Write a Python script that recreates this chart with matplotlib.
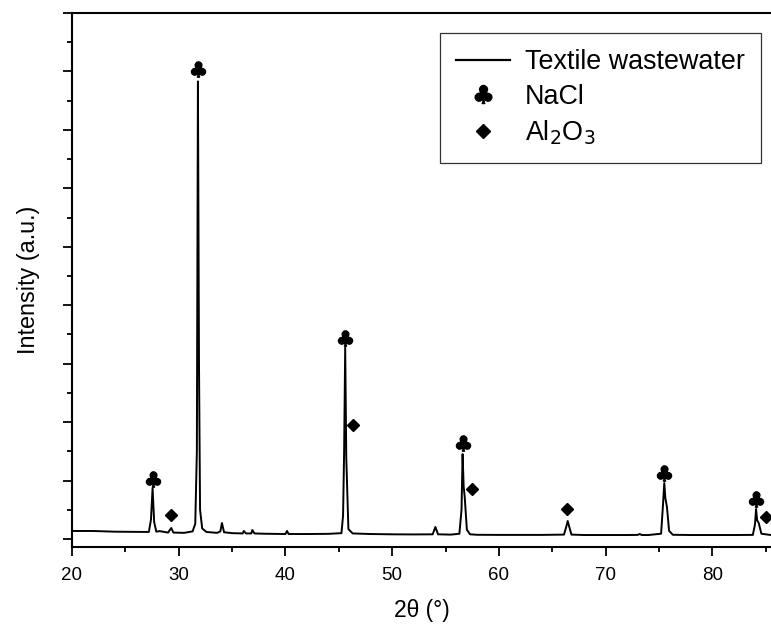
import matplotlib
matplotlib.use('Agg')
import matplotlib.pyplot as plt
from matplotlib.lines import Line2D
from matplotlib.ticker import MultipleLocator

plt.rcParams['font.family'] = ['Liberation Sans', 'DejaVu Sans']
plt.rcParams['mathtext.fontset'] = 'dejavusans'

# XRD pattern (one major y tick = 1000 a.u.)
two_theta = [20, 22, 24, 26, 27.2, 27.4, 27.55, 27.7, 27.9, 28.2, 29.0, 29.3, 29.5,
             30.5, 31.3, 31.55, 31.7, 31.8, 31.9, 32.0, 32.2, 32.6, 33.6, 33.9, 34.05,
             34.25, 35.0, 36.0, 36.1, 36.3, 36.8, 36.9, 37.1, 38.0, 40.0, 40.15, 40.3,
             42.0, 44.0, 45.25, 45.4, 45.5, 45.6, 45.7, 45.9, 46.3, 48.0, 50.0, 52.0, 53.8,
             54.05, 54.3, 55.5, 56.3, 56.5, 56.6, 56.7, 56.8, 57.0, 57.3, 58.0, 60.0,
             62.0, 64.0, 66.1, 66.3, 66.45, 66.6, 66.8, 68.0, 70.0, 72.0, 73.0, 73.2,
             73.4, 74.0, 75.2, 75.35, 75.5, 75.6, 75.75, 75.95, 76.3, 78.0, 80.0, 82.0,
             83.8, 84.0, 84.1, 84.2, 84.35, 84.6, 85.5]
intensity = [137, 137, 125, 122, 120, 330, 872, 290, 125, 135, 110, 188, 110,
             105, 130, 260, 1500, 7830, 3000, 500, 180, 120, 105, 130, 273,
             115, 100, 95, 137, 95, 95, 154, 95, 90, 85, 137, 85,
             85, 88, 100, 400, 1500, 3282, 1400, 170, 95, 85, 80, 78, 80,
             205, 80, 75, 90, 500, 1453, 900, 718, 160, 80, 72, 70,
             70, 70, 75, 200, 308, 205, 75, 68, 68, 68, 70, 85,
             68, 68, 90, 500, 957, 700, 547, 140, 72, 68, 68, 68,
             70, 250, 513, 320, 274, 90, 68]

club_x = [27.55, 31.8, 45.6, 56.6, 75.5, 84.1]
club_y = [1026, 8034, 3436, 1641, 1128, 684]
diamond_x = [29.3, 46.35, 57.5, 66.4, 85.0]
diamond_y = [410, 1949, 855, 513, 376]

fig = plt.figure(figsize=(7.71, 6.26), dpi=100)
ax = fig.add_axes([72/771, 1-547/626, 1-72/771, (547-13)/626])

ax.plot(two_theta, intensity, color='k', lw=1.4)
ax.plot(club_x, club_y, ls='none', marker=r'$\clubsuit$', ms=11, color='k')
ax.plot(diamond_x, diamond_y, ls='none', marker='D', ms=6.5, color='k')

ax.set_xlim(20, 85.5)
ax.set_ylim(-137, 9000)
ax.xaxis.set_major_locator(MultipleLocator(10))
ax.xaxis.set_minor_locator(MultipleLocator(5))
ax.yaxis.set_major_locator(MultipleLocator(1000))
ax.yaxis.set_minor_locator(MultipleLocator(500))
ax.set_yticklabels([])
ax.tick_params(which='major', direction='out', length=6.5, width=1.3, labelsize=13.5)
ax.tick_params(which='minor', direction='out', length=3.5, width=1.3)
ax.tick_params(axis='x', pad=8)
ax.spines['right'].set_visible(False)
for s in ['left', 'bottom', 'top']:
    ax.spines[s].set_linewidth(1.5)

ax.set_xlabel('2θ (°)', fontsize=16.5, labelpad=11)
ax.set_ylabel('Intensity (a.u.)', fontsize=16.8, labelpad=13)

handles = [Line2D([], [], color='k', lw=1.6),
           Line2D([], [], ls='none', marker=r'$\clubsuit$', ms=13, color='k'),
           Line2D([], [], ls='none', marker='D', ms=7.5, color='k')]
labels = ['Textile wastewater', 'NaCl', r'Al$_2$O$_3$']
leg = ax.legend(handles, labels, loc='upper right', bbox_to_anchor=(761/771, 1-33/626),
                bbox_transform=fig.transFigure, borderaxespad=0, fontsize=19.4,
                fancybox=False, frameon=True, edgecolor='k', handlelength=2.0,
                handletextpad=0.55, labelspacing=0.32, borderpad=0.6)
leg.get_frame().set_linewidth(0.9)

fig.savefig('out.png', dpi=100)
